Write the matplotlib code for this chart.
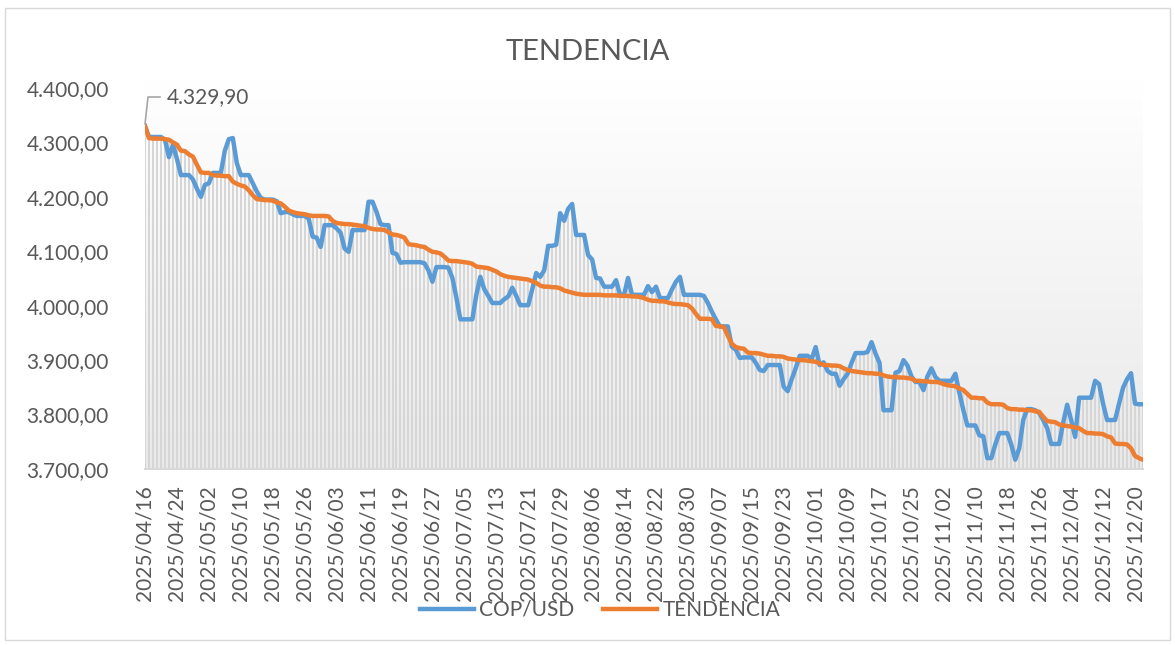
import numpy as np
import pandas as pd
import matplotlib
matplotlib.use('Agg')
import matplotlib.pyplot as plt
from matplotlib.lines import Line2D
from matplotlib.colors import LinearSegmentedColormap
from matplotlib.ticker import FuncFormatter

plt.rcParams['font.family'] = ['Lato', 'DejaVu Sans']

start_date = '2025-04-16'

# COP/USD daily values
cop_usd = [
    4330, 4310, 4310, 4310, 4310, 4305, 4273, 4296, 4270, 4240,
    4240, 4240, 4232, 4215, 4200, 4222, 4225, 4244, 4244, 4244,
    4285, 4306, 4308, 4262, 4240, 4240, 4240, 4225, 4210, 4198,
    4195, 4195, 4195, 4192, 4170, 4172, 4172, 4168, 4165, 4165,
    4165, 4160, 4127, 4125, 4108, 4148, 4148, 4148, 4142, 4134,
    4105, 4099, 4139, 4139, 4139, 4139, 4191, 4191, 4172, 4150,
    4148, 4148, 4097, 4095, 4079, 4080, 4080, 4080, 4080, 4080,
    4078, 4065, 4044, 4071, 4071, 4071, 4070, 4051, 4015, 3975,
    3975, 3975, 3975, 4020, 4053, 4030, 4018, 4005, 4005, 4005,
    4012, 4017, 4033, 4018, 4001, 4001, 4001, 4030, 4060, 4053,
    4065, 4110, 4110, 4112, 4170, 4156, 4178, 4187, 4130, 4130,
    4130, 4093, 4085, 4051, 4050, 4035, 4035, 4035, 4047, 4020,
    4020, 4051, 4020, 4020, 4020, 4020, 4036, 4025, 4035, 4014,
    4014, 4014, 4030, 4044, 4053, 4020, 4020, 4020, 4020, 4020,
    4018, 4005, 3989, 3975, 3962, 3962, 3962, 3925, 3919, 3904,
    3905, 3905, 3905, 3895, 3882, 3880, 3891, 3891, 3891, 3891,
    3851, 3843, 3865, 3885, 3908, 3908, 3908, 3902, 3924, 3891,
    3896, 3880, 3875, 3875, 3853, 3865, 3875, 3895, 3913, 3913,
    3913, 3915, 3933, 3912, 3895, 3808, 3808, 3808, 3877, 3880,
    3900, 3890, 3870, 3860, 3860, 3845, 3870, 3885, 3869, 3862,
    3862, 3862, 3862, 3875, 3840, 3808, 3780, 3780, 3780, 3762,
    3760, 3720, 3720, 3745, 3766, 3766, 3766, 3745, 3717, 3738,
    3790, 3810, 3810, 3808, 3803, 3790, 3775, 3746, 3746, 3746,
    3785, 3818, 3790, 3759, 3831, 3831, 3831, 3831, 3862, 3856,
    3820, 3790, 3790, 3790, 3820, 3849, 3865, 3876, 3820, 3819,
    3819,
]

# TENDENCIA daily values
tendencia = [
    4329.9, 4308, 4307, 4307, 4307, 4306, 4305, 4300, 4296, 4285,
    4284, 4278, 4274, 4259, 4245, 4244, 4244, 4240, 4239, 4239,
    4238, 4238, 4228, 4224, 4221, 4219, 4212, 4203, 4196, 4195,
    4194, 4194, 4193, 4190, 4188, 4182, 4175, 4172, 4170, 4169,
    4168, 4166, 4165, 4165, 4165, 4165, 4164, 4156, 4152, 4151,
    4150, 4150, 4149, 4148, 4147, 4146, 4143, 4141, 4140, 4140,
    4139, 4135, 4131, 4130, 4128, 4125, 4113, 4112, 4111, 4109,
    4108, 4103, 4099, 4098, 4096, 4090, 4083, 4082, 4082, 4081,
    4080, 4079, 4077, 4072, 4071, 4070, 4069, 4066, 4063, 4058,
    4055, 4053, 4052, 4051, 4050, 4049, 4048, 4045, 4042, 4037,
    4035, 4035, 4034, 4034, 4032, 4028, 4026, 4024, 4022, 4021,
    4020, 4020, 4020, 4020, 4020, 4019, 4019, 4019, 4019, 4018,
    4018, 4018, 4017, 4017, 4016, 4014, 4011, 4009, 4009, 4008,
    4008, 4006, 4004, 4003, 4003, 4002, 4001, 3995, 3985, 3976,
    3976, 3976, 3975, 3963, 3962, 3961, 3945, 3930, 3924, 3922,
    3921, 3914, 3913, 3913, 3912, 3910, 3908, 3908, 3907, 3907,
    3906, 3903, 3902, 3901, 3900, 3900, 3899, 3898, 3897, 3894,
    3891, 3891, 3890, 3890, 3889, 3885, 3882, 3880, 3879, 3878,
    3877, 3876, 3876, 3875, 3875, 3872, 3870, 3869, 3869, 3868,
    3868, 3867, 3866, 3862, 3862, 3861, 3861, 3860, 3860, 3859,
    3856, 3854, 3853, 3852, 3848, 3845, 3838, 3831, 3831, 3830,
    3830, 3822, 3819, 3819, 3819, 3818, 3812, 3810, 3810, 3809,
    3809, 3808, 3808, 3806, 3805, 3796, 3788, 3787, 3786, 3782,
    3780, 3779, 3778, 3776, 3775, 3770, 3766, 3766, 3765, 3765,
    3764, 3760, 3758, 3747, 3746, 3746, 3745, 3738, 3724, 3720,
    3717,
]

assert len(cop_usd) == len(tendencia)

dates = pd.date_range(start_date, periods=len(cop_usd), freq='D')
x = np.arange(len(dates))
y_min, y_max = 3700, 4400
tick_every = 8

txt = '#595959'
blue = '#5b9bd5'
orange = '#ed7d31'

fig = plt.figure(figsize=(11.75, 6.45), dpi=100)
fig.add_artist(plt.Rectangle((5 / 1175, 5 / 645), 1165 / 1175, 632 / 645,
                             transform=fig.transFigure, fill=False,
                             edgecolor='#d9d9d9', lw=1))

ax = fig.add_axes([145 / 1175, 1 - 469 / 645, (1143 - 145) / 1175, (469 - 80) / 645])

# gradient plot-area background
cmap = LinearSegmentedColormap.from_list('bg', ['#e9e9e9', '#ffffff'])
grad = np.linspace(0, 1, 256).reshape(-1, 1)
ax.imshow(grad, extent=[0, len(x) - 1, y_min, y_min + (y_max - y_min) * 389 / 381],
          origin='lower', aspect='auto', cmap=cmap, zorder=0)

# gray columns under the lines
top = np.maximum(np.array(cop_usd), np.array(tendencia))
ax.bar(x, top - y_min, bottom=y_min, width=0.5, color='#d6d6d6', lw=0, zorder=1)

ax.plot(x, cop_usd, color=blue, lw=3.2, label='COP/USD', zorder=3,
        solid_joinstyle='round')
ax.plot(x, tendencia, color=orange, lw=3.2, label='TENDENCIA', zorder=4,
        solid_joinstyle='round')

ax.set_xlim(0, len(x) - 1)
ax.set_ylim(y_min, y_min + (y_max - y_min) * 389 / 381)
ax.set_yticks(np.arange(y_min, y_max + 1, 100))
ax.yaxis.set_major_formatter(FuncFormatter(
    lambda v, p: f'{v:,.2f}'.replace(',', 'X').replace('.', ',').replace('X', '.')))
ticks = x[::tick_every]
ax.set_xticks(ticks)
ax.set_xticklabels([d.strftime('%Y/%m/%d') for d in dates[::tick_every]], rotation=90)
ax.tick_params(axis='x', length=0, pad=12, labelsize=15, labelcolor=txt)
ax.tick_params(axis='y', length=0, pad=26, labelsize=15, labelcolor=txt)
for s in ['top', 'right', 'left']:
    ax.spines[s].set_visible(False)
ax.spines['bottom'].set_color('#d9d9d9')
ax.spines['bottom'].set_linewidth(1.5)

# data label on the first point
fig.text(167 / 1175, 1 - 97 / 645, '4.329,90', fontsize=15, color=txt,
         ha='left', va='center')
fig.add_artist(Line2D([145 / 1175, 148 / 1175, 160 / 1175],
                      [1 - 124 / 645, 1 - 97 / 645, 1 - 97 / 645],
                      transform=fig.transFigure, color='#a6a6a6', lw=1.2))

fig.text(0.5, 1 - 52 / 645, 'TENDENCIA', fontsize=21, color=txt,
         ha='center', va='center')

fig.legend(loc='center', bbox_to_anchor=(600 / 1175, 1 - 610 / 645), ncol=2,
           frameon=False, fontsize=15, labelcolor=txt, handlelength=2.6,
           handletextpad=0.25, columnspacing=1.4)

fig.savefig('out.png', dpi=100)
